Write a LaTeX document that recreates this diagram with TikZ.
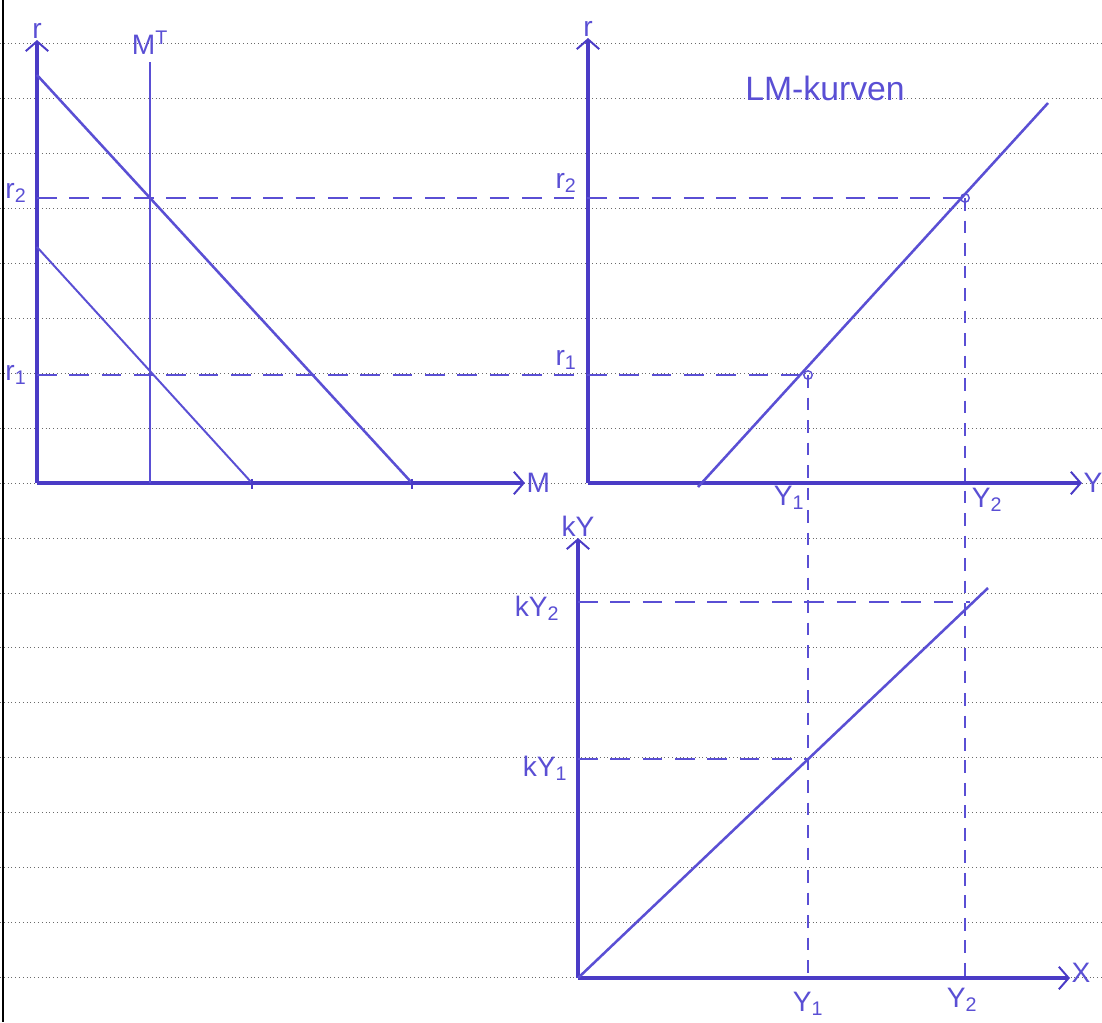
\documentclass[tikz,border=0pt]{standalone}
\usepackage{fontspec}
\setmainfont{Liberation Sans}
\usetikzlibrary{arrows.meta,positioning}
\definecolor{ink}{HTML}{5A4FD4}
\definecolor{inkdark}{HTML}{4A3BC6}
\definecolor{paperline}{HTML}{6A6A6A}
\tikzset{
  % ---- axes and curves ------------------------------------------------
  axis/.style={draw=inkdark, line width=2.2pt,
    -{Straight Barb[length=7pt,width=16pt,line width=1.4pt]}},
  curve/.style={draw=ink, line width=1.8pt},
  tick/.style={draw=inkdark, line width=1.4pt},
  % ---- guide lines ----------------------------------------------------
  guide/.style={draw=ink, line width=1.3pt, dash pattern=on 14pt off 9pt},
  vguide/.style={draw=ink, line width=1.3pt, dash pattern=on 9pt off 7pt},
  % ---- labels ---------------------------------------------------------
  lbl/.style={text=ink, font=\fontsize{20}{24}\selectfont, inner sep=1pt},
  dot/.style={circle, draw=ink, line width=1pt, minimum size=6pt,
    inner sep=0pt},
  % ---- paper ----------------------------------------------------------
  ruling/.style={draw=paperline, line width=0.7pt, dotted},
}

\begin{document}
\begin{tikzpicture}[x=0.025cm, y=-0.025cm]
\useasboundingbox (0,0) rectangle (1102,1022);

% ---------------- lined paper ----------------------------------------
\foreach \k in {0,...,17}{
  \draw[ruling] (0,43.5+54.95*\k) -- (1102,43.5+54.95*\k);
}
\draw[black, line width=1.5pt] (3,0) -- (3,1022);

% ---------------- money market (left) --------------------------------
\coordinate (Lo)   at (37,483);
\coordinate (Ltop) at (37,40);
\coordinate (Lend) at (525,483);
\coordinate (MTb)  at (150,483);
\coordinate (MTt)  at (150,62);
\coordinate (Mhi1) at (37,75);
\coordinate (Mhi2) at (412,483);
\coordinate (Mlo1) at (37,247);
\coordinate (Mlo2) at (252,483);

\draw[axis] (Lo) -- (Ltop);
\draw[axis] (Lo) -- (Lend);
\draw[curve] (MTb) -- (MTt);
\draw[curve] (Mhi1) -- (Mhi2);
\draw[curve, line width=1.4pt] (Mlo1) -- (Mlo2);
\draw[tick] ([yshift=3pt]Mlo2) -- ([yshift=-4pt]Mlo2);
\draw[tick] ([yshift=3pt]Mhi2) -- ([yshift=-4pt]Mhi2);

\node[lbl, above=0pt of Ltop] (rL) {r};
\node[lbl, above=4pt of MTt] (MT) {M\textsuperscript{T}};
\node[lbl, right=0pt of Lend] (M) {M};
\node[lbl] (r2L) at (16,193) {r\textsubscript{2}};
\node[lbl] (r1L) at (16,375) {r\textsubscript{1}};

% ---------------- LM curve (right) -----------------------------------
\coordinate (Ro)   at (588,483);
\coordinate (Rtop) at (588,38);
\coordinate (Rend) at (1082,483);
\coordinate (LMa)  at (698,487);
\coordinate (LMb)  at (1048,103);
\coordinate (P1)   at (808,375);
\coordinate (P2)   at (965,198);

\draw[axis] (Ro) -- (Rtop);
\draw[axis] (Ro) -- (Rend);
\draw[curve] (LMa) -- (LMb);

\node[lbl, above=0pt of Rtop] (rR) {r};
\node[lbl, right=0pt of Rend] (Y) {Y};
\node[lbl] (r2R) at (566,183) {r\textsubscript{2}};
\node[lbl] (r1R) at (566,360) {r\textsubscript{1}};
\node[lbl] (Y1R) at (789,498) {Y\textsubscript{1}};
\node[lbl] (Y2R) at (987,500) {Y\textsubscript{2}};
\node[lbl, font=\fontsize{24}{28}\selectfont] (LM) at (825,88) {LM-kurven};

% ---------------- kY against Y (bottom) ------------------------------
\coordinate (Bo)   at (578,978);
\coordinate (Btop) at (578,538);
\coordinate (Bend) at (1070,978);
\coordinate (Bl)   at (988,588);
\coordinate (Q1)   at (808,759);
\coordinate (Q2)   at (970,602);

\draw[axis] (Bo) -- (Btop);
\draw[axis] (Bo) -- (Bend);
\draw[curve] (Bo) -- (Bl);

\node[lbl, above=0pt of Btop] (kY) {kY};
\node[lbl, right=0pt of Bend, yshift=4pt] (X) {X};
\node[lbl] (kY2) at (537,608) {kY\textsubscript{2}};
\node[lbl] (kY1) at (545,768) {kY\textsubscript{1}};
\node[lbl] (Y1B) at (808,1004) {Y\textsubscript{1}};
\node[lbl] (Y2B) at (962,1000) {Y\textsubscript{2}};

% ---------------- guides ---------------------------------------------
\draw[guide] (Mhi1 |- P2) -- (P2);
\draw[guide] (Mhi1 |- P1) -- (P1);
\draw[vguide] (P1) -- (P1 |- Bo);
\draw[vguide] (P2) -- (P2 |- Bo);
\draw[guide] (Bo |- Q2) -- (Q2);
\draw[guide] (Bo |- Q1) -- (Q1);
\node[dot] (d1) at (P1) {};
\node[dot] (d2) at (P2) {};

\end{tikzpicture}
\end{document}
